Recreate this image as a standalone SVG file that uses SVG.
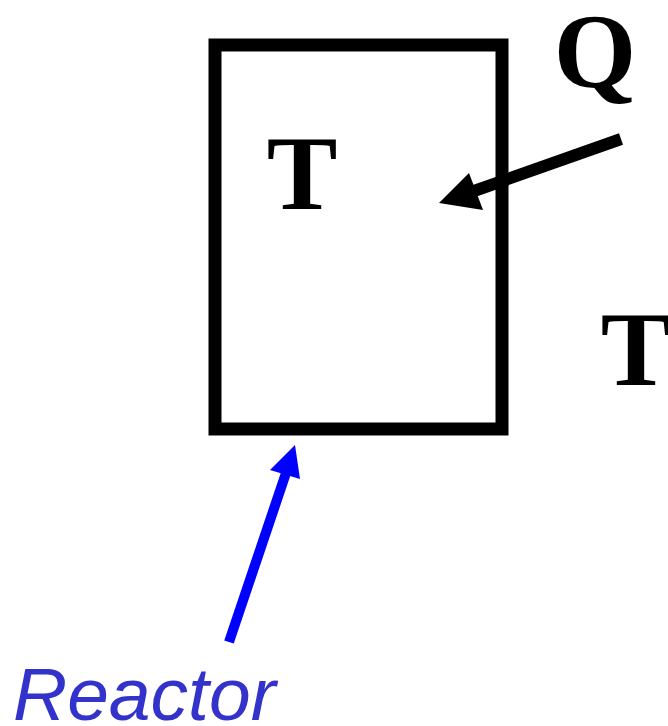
<svg xmlns="http://www.w3.org/2000/svg" width="668" height="726" viewBox="0 0 668 726">
<style>
.lbl{font-family:"Liberation Serif","Times New Roman",serif;font-weight:bold;font-size:106px;fill:#000}
.cap{font-family:"Liberation Sans",Arial,sans-serif;font-style:italic;font-size:75px;fill:#3333CC}
</style>
<rect width="668" height="726" fill="#fff"/>
<g id="reactor">
<rect x="215" y="45" width="287" height="384" fill="none" stroke="#000" stroke-width="13"/>
<text class="lbl" x="302" y="209" text-anchor="middle">T</text>
</g>
<g id="q"><text class="lbl" x="595" y="87" text-anchor="middle">Q</text></g>
<g id="tout"><text class="lbl" x="636" y="385" text-anchor="middle">T</text></g>
<g id="reactor-label"><text class="cap" x="13" y="720">Reactor</text></g>
<g id="connectors">
<line x1="621" y1="139" x2="474" y2="191" stroke="#000" stroke-width="12"/>
<polygon points="439,203 469,173 483,210" fill="#000"/>
<line x1="229" y1="642" x2="287" y2="470" stroke="#0000FF" stroke-width="10"/>
<polygon points="295,445 270,470 300,479" fill="#0000FF"/>
</g>
</svg>
